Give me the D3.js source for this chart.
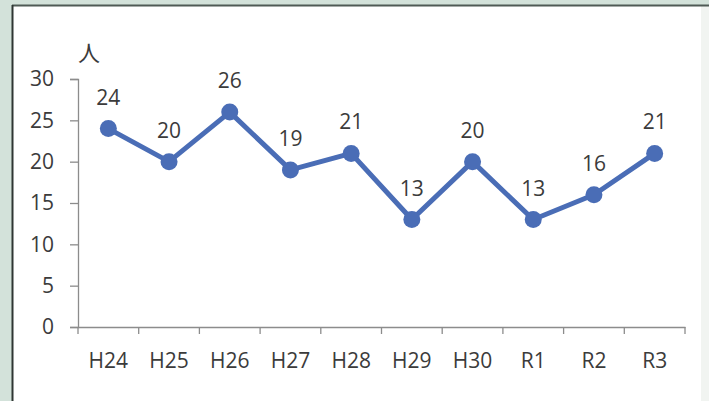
<!DOCTYPE html>
<html>
<head>
<meta charset="utf-8">
<script src="https://cdn.jsdelivr.net/npm/d3@7"></script>
<style>
  html, body { margin: 0; padding: 0; background: #d3e2da; }
  svg { display: block; }
</style>
</head>
<body>
<div id="chart"></div>
<script>
var categories = ["H24", "H25", "H26", "H27", "H28", "H29", "H30", "R1", "R2", "R3"];
var values = [24, 20, 26, 19, 21, 13, 20, 13, 16, 21];
var yTicks = [0, 5, 10, 15, 20, 25, 30];

var width = 709,
    height = 401;
var fontFamily = "'Open Sans', 'Noto Sans', sans-serif";

var svg = d3.select("#chart")
  .append("svg")
  .attr("width", width)
  .attr("height", height)
  .style("font-family", fontFamily);

// scanned page frame
svg.append("rect")
  .attr("x", 0).attr("y", 0)
  .attr("width", width).attr("height", height)
  .attr("fill", "#d3e2da");
svg.append("rect")
  .attr("x", 12).attr("y", 5)
  .attr("width", 690).attr("height", 400)
  .attr("fill", "#ffffff");
svg.append("rect")
  .attr("x", 701).attr("y", 5)
  .attr("width", 8).attr("height", 396)
  .attr("fill", "#f1f4f1");
svg.append("line")
  .attr("x1", 12).attr("x2", 709)
  .attr("y1", 5.5).attr("y2", 5.5)
  .attr("stroke", "#4f5a55").attr("stroke-width", 2);
svg.append("line")
  .attr("x1", 12.5).attr("x2", 12.5)
  .attr("y1", 5).attr("y2", 401)
  .attr("stroke", "#2f3633").attr("stroke-width", 2);

var x = d3.scaleBand()
  .domain(categories)
  .range([78, 685]);

var y = d3.scaleLinear()
  .domain([0, 30])
  .range([327, 79]);

var textColor = "#3b3b3b";

// y axis
var yAxis = svg.append("g")
  .attr("transform", "translate(78,0)")
  .call(d3.axisLeft(y).tickValues(yTicks).tickSize(8).tickPadding(16))
  .attr("font-family", fontFamily)
  .attr("font-size", 21);
yAxis.selectAll("path, line").attr("stroke", "#8c8c8c").attr("stroke-width", 1.3);
yAxis.selectAll("text").attr("fill", textColor);

// x axis
var xAxis = svg.append("g")
  .attr("transform", "translate(0,327)")
  .call(d3.axisBottom(x).tickSize(0).tickPadding(26))
  .attr("font-family", fontFamily)
  .attr("font-size", 21);
xAxis.selectAll("path").attr("stroke", "#8c8c8c").attr("stroke-width", 1.3);
xAxis.selectAll("text").attr("fill", textColor);

// category boundary ticks
var bounds = categories.map(function(c) { return x(c); }).concat([x.range()[1]]);
svg.append("g").selectAll("line")
  .data(bounds)
  .enter().append("line")
  .attr("x1", function(d) { return d; })
  .attr("x2", function(d) { return d; })
  .attr("y1", 327)
  .attr("y2", 334)
  .attr("stroke", "#8c8c8c")
  .attr("stroke-width", 1.3);

// unit label
svg.append("text")
  .attr("x", 89)
  .attr("y", 61)
  .attr("text-anchor", "middle")
  .attr("fill", textColor)
  .style("font-size", "22px")
  .style("font-family", "'Noto Sans CJK JP', sans-serif")
  .text("人");

var cx = function(d, i) { return x(categories[i]) + x.bandwidth() / 2; };

var line = d3.line()
  .x(function(d, i) { return cx(d, i); })
  .y(function(d) { return y(d); });

svg.append("path")
  .datum(values)
  .attr("d", line)
  .attr("fill", "none")
  .attr("stroke", "#4a6db6")
  .attr("stroke-width", 5)
  .attr("stroke-linejoin", "round");

svg.append("g").selectAll("circle")
  .data(values)
  .enter().append("circle")
  .attr("cx", cx)
  .attr("cy", function(d) { return y(d); })
  .attr("r", 8.5)
  .attr("fill", "#4a6db6");

svg.append("g").selectAll("text")
  .data(values)
  .enter().append("text")
  .attr("x", cx)
  .attr("y", function(d) { return y(d) - 24; })
  .attr("text-anchor", "middle")
  .attr("fill", textColor)
  .style("font-size", "21px")
  .text(function(d) { return d; });
</script>
</body>
</html>
